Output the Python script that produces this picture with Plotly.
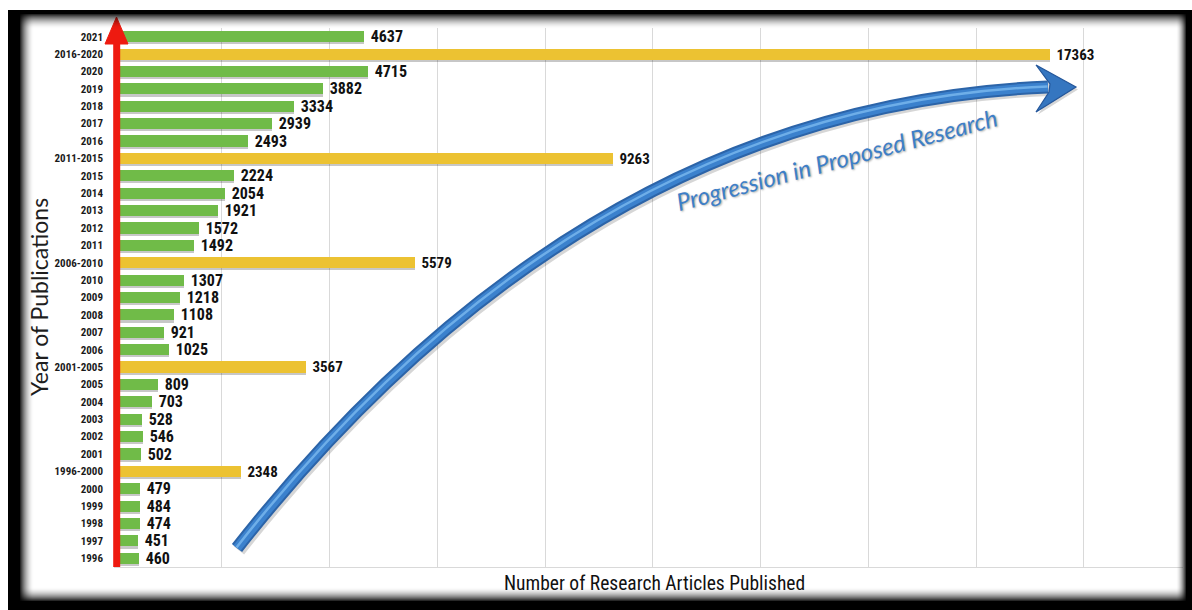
import plotly.graph_objects as go

# Rows of the chart, listed top to bottom
row_labels = ["2021", "2016-2020", "2020", "2019", "2018", "2017", "2016",
              "2011-2015", "2015", "2014", "2013", "2012", "2011",
              "2006-2010", "2010", "2009", "2008", "2007", "2006",
              "2001-2005", "2005", "2004", "2003", "2002", "2001",
              "1996-2000", "2000", "1999", "1998", "1997", "1996"]

# Yearly publication counts
annual_years = ["2021", "2020", "2019", "2018", "2017", "2016",
                "2015", "2014", "2013", "2012", "2011",
                "2010", "2009", "2008", "2007", "2006",
                "2005", "2004", "2003", "2002", "2001",
                "2000", "1999", "1998", "1997", "1996"]
annual_counts = [4637, 4715, 3882, 3334, 2939, 2493,
                 2224, 2054, 1921, 1572, 1492,
                 1307, 1218, 1108, 921, 1025,
                 809, 703, 528, 546, 502,
                 479, 484, 474, 451, 460]

# Five-year totals
period_labels = ["2016-2020", "2011-2015", "2006-2010", "2001-2005", "1996-2000"]
period_counts = [17363, 9263, 5579, 3567, 2348]

GREEN = "#70bb48"
GOLD = "#ecc232"
NARROW = "Liberation Sans Narrow, Arial Narrow, Roboto Condensed, Lato, sans-serif"
TITLE_FONT = "Lato, Carlito, Calibri, sans-serif"

W, H = 1192, 610
ML, MR, MT, MB = 114, 9, 28, 43


def px(x):
    return (x - ML) / (W - ML - MR)


def py(y):
    return (H - MB - y) / (H - MT - MB)


BAR_W = 0.64
SHIFT = 0.12

fig = go.Figure()

# soft drop shadows under the bars
for cats, vals in ((annual_years, annual_counts), (period_labels, period_counts)):
    fig.add_trace(go.Bar(
        y=cats, x=vals, orientation="h", width=BAR_W, offset=-BAR_W / 2 + SHIFT,
        marker=dict(color="rgba(0,0,0,0.22)", line_width=0),
        hoverinfo="skip", showlegend=False,
    ))

fig.add_trace(go.Bar(
    y=annual_years, x=annual_counts, orientation="h", width=BAR_W, offset=-BAR_W / 2,
    marker=dict(color=GREEN, line_width=0),
    texttemplate=" %{x:d}", textposition="outside", constraintext="none",
    textfont=dict(family=NARROW, size=16, color="#111111", weight="bold"),
    cliponaxis=False, showlegend=False, name="Yearly",
))
fig.add_trace(go.Bar(
    y=period_labels, x=period_counts, orientation="h", width=BAR_W, offset=-BAR_W / 2,
    marker=dict(color=GOLD, line_width=0),
    texttemplate=" %{x:d}", textposition="outside", constraintext="none",
    textfont=dict(family=NARROW, size=15, color="#111111", weight="bold"),
    cliponaxis=False, showlegend=False, name="Five-year total",
))

shapes = []

# red vertical arrow along the category axis
RED = "#ee1a10"
shapes.append(dict(type="line", xref="paper", yref="paper",
                   x0=px(116.7), x1=px(116.7), y0=py(567), y1=py(40),
                   line=dict(color=RED, width=7), layer="above"))
shapes.append(dict(type="path", xref="paper", yref="paper",
                   path=f"M {px(105)},{py(44)} L {px(116.5)},{py(17)} L {px(128)},{py(44)} Z",
                   fillcolor=RED, line=dict(color=RED, width=1), layer="above"))

# curved blue progression arrow
p0, p1, p2 = (237, 548), (585, 106), (1048, 87)


def curve(dx=0.0, dy=0.0):
    return (f"M {px(p0[0] + dx)},{py(p0[1] + dy)} "
            f"Q {px(p1[0] + dx)},{py(p1[1] + dy)} {px(p2[0] + dx)},{py(p2[1] + dy)}")


shapes.append(dict(type="path", xref="paper", yref="paper", path=curve(2, 2.5),
                   line=dict(color="rgba(0,0,0,0.16)", width=13), layer="above"))
shapes.append(dict(type="path", xref="paper", yref="paper", path=curve(),
                   line=dict(color="#2c64a8", width=13), layer="above"))
shapes.append(dict(type="path", xref="paper", yref="paper", path=curve(),
                   line=dict(color="#3b81cd", width=9), layer="above"))
shapes.append(dict(type="path", xref="paper", yref="paper", path=curve(-0.5, -0.6),
                   line=dict(color="#6eaee8", width=2.5), layer="above"))

head = [(1036, 65), (1076, 87), (1036, 112), (1049, 92), (1050, 84)]
head_path = "M " + " L ".join(f"{px(x)},{py(y)}" for x, y in head) + " Z"
shade_path = "M " + " L ".join(f"{px(x + 2)},{py(y + 2.5)}" for x, y in head) + " Z"
shapes.append(dict(type="path", xref="paper", yref="paper", path=shade_path,
                   fillcolor="rgba(0,0,0,0.16)", line_width=0, layer="above"))
shapes.append(dict(type="path", xref="paper", yref="paper", path=head_path,
                   fillcolor="#3576c0", line=dict(color="#24569a", width=1.2), layer="above"))


# dark picture frame with an inner fade
def band(x0, y0, x1, y1, color):
    return dict(type="rect", xref="paper", yref="paper",
                x0=px(x0), x1=px(x1), y0=py(y1), y1=py(y0),
                fillcolor=color, line_width=0, layer="above")


L0, T0, R0, B0 = 8, 10, 1192, 610
solid = dict(left=12, top=4, right=6, bottom=9)
fade = dict(left=14, top=15, right=10, bottom=14)

shapes.append(band(L0, T0, L0 + solid["left"], B0, "#000000"))
shapes.append(band(L0, T0, R0, T0 + solid["top"], "#000000"))
shapes.append(band(R0 - solid["right"], T0, R0, B0, "#000000"))
shapes.append(band(L0, B0 - solid["bottom"], R0, B0, "#000000"))

for side in ("left", "top", "right", "bottom"):
    n = fade[side]
    for i in range(n):
        a = (1 - (i + 0.5) / n) ** 1.8 * 0.9
        col = f"rgba(0,0,0,{a:.3f})"
        if side == "left":
            x = L0 + solid["left"] + i
            shapes.append(band(x, T0 + solid["top"], x + 1, B0 - solid["bottom"], col))
        elif side == "top":
            y = T0 + solid["top"] + i
            shapes.append(band(L0 + solid["left"], y, R0 - solid["right"], y + 1, col))
        elif side == "right":
            x = R0 - solid["right"] - i
            shapes.append(band(x - 1, T0 + solid["top"], x, B0 - solid["bottom"], col))
        else:
            y = B0 - solid["bottom"] - i
            shapes.append(band(L0 + solid["left"], y - 1, R0 - solid["right"], y, col))

annotations = [
    dict(text="<i>Progression in Proposed Research</i>", xref="paper", yref="paper",
         x=px(836), y=py(159), xanchor="center", yanchor="middle", showarrow=False,
         textangle=-15,
         font=dict(family=TITLE_FONT, size=24, color="#3d7fc8",
                   shadow="1px 1px 2px rgba(0,0,0,0.35)")),
    dict(text="Year of Publications", xref="paper", yref="paper",
         x=px(39), y=py(297), xanchor="center", yanchor="middle", showarrow=False,
         textangle=-90, font=dict(family=TITLE_FONT, size=23, color="#1e1e1e")),
    dict(text="Number of Research Articles Published", xref="paper", yref="paper",
         x=px(654), y=py(583), xanchor="center", yanchor="middle", showarrow=False,
         font=dict(family=NARROW, size=19.5, color="#111111")),
]

fig.update_layout(
    width=W, height=H,
    margin=dict(l=ML, r=MR, t=MT, b=MB, pad=0),
    paper_bgcolor="white", plot_bgcolor="white",
    barmode="overlay", bargap=0,
    shapes=shapes, annotations=annotations,
    xaxis=dict(range=[0, 19840], dtick=2000, tick0=0, showgrid=True,
               gridcolor="#d9d9d9", gridwidth=1, showticklabels=False, ticks="",
               zeroline=False, showline=True, linecolor="#d9d9d9", linewidth=1,
               fixedrange=True),
    yaxis=dict(type="category", categoryorder="array", categoryarray=row_labels,
               range=[len(row_labels) - 0.5, -0.5], showgrid=False, zeroline=False,
               ticks="", ticklabelstandoff=10, showline=False,
               tickfont=dict(family=NARROW, size=11, color="#1a1a1a", weight="bold"),
               fixedrange=True),
)

fig.write_html("out.html")
